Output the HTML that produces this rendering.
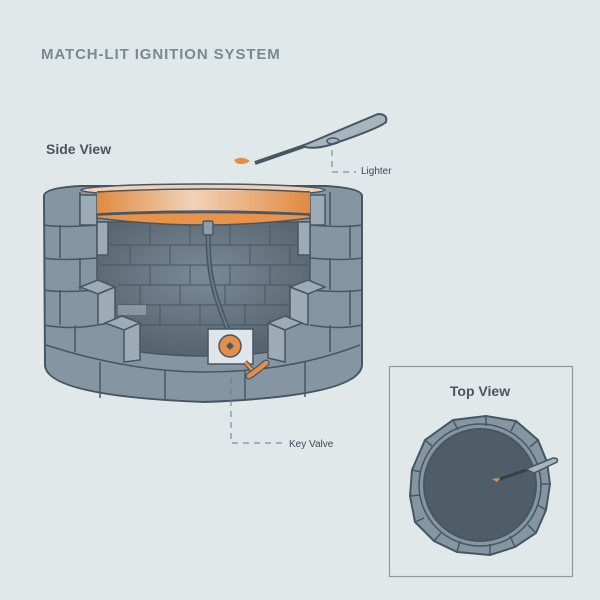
<!DOCTYPE html>
<html><head><meta charset="utf-8"><style>
body{margin:0;background:#e1e8ea;}
svg{display:block;font-family:"Liberation Sans",sans-serif;}
</style></head><body>
<svg width="600" height="600" viewBox="0 0 600 600">
<defs>
<linearGradient id="org" x1="0" x2="1"><stop offset="0" stop-color="#e08a40"/><stop offset="0.45" stop-color="#f3d2b8"/><stop offset="1" stop-color="#e08a40"/></linearGradient>
<radialGradient id="inn" cx="0.5" cy="0.4" r="0.6"><stop offset="0" stop-color="#7a8a96"/><stop offset="1" stop-color="#56646f"/></radialGradient>
</defs>
<rect width="600" height="600" fill="#e1e8ea"/>
<text x="41" y="59" font-size="15" font-weight="bold" fill="#7a8894" letter-spacing="0.9">MATCH-LIT IGNITION SYSTEM</text>
<text x="46" y="154" font-size="14" font-weight="bold" fill="#4a5560">Side View</text>

<!-- body -->
<path d="M44,196 Q44,188 80,186 L325,186 Q362,188 362,196 L362,365 Q360,396 205,402 Q46,396 45,365 Z" fill="#8595a2" stroke="#465663" stroke-width="2"/>
<g stroke="#465663" stroke-width="1.5" fill="none">
<path d="M44,225 Q60,228 97,225 M310,225 Q345,228 362,225"/>
<path d="M44,258 Q60,261 97,258 M310,258 Q345,261 362,258"/>
<path d="M44,290 Q60,293 97,290 M310,290 Q345,293 362,290"/>
<path d="M44,325 Q70,330 97,325 M310,325 Q340,330 362,325"/>
<path d="M46,345 Q130,372 205,372 Q290,372 360,345"/>
<path d="M80,192 V225 M60,225 V258 M80,258 V290 M60,290 V325 M75,325 V352 M330,192 V225 M350,225 V258 M330,258 V290 M350,290 V325 M330,325 V352"/>
<path d="M100,362 V398 M165,370 V401 M245,370 V401 M305,362 V397"/>
</g>
<!-- interior -->
<path d="M97,222 L310,222 L310,283 L292,290 L292,320 L270,325 L270,352 Q205,360 140,352 L125,325 L115,320 L115,290 L97,283 Z" fill="url(#inn)" stroke="#465663" stroke-width="1.5"/>
<g stroke="#465663" stroke-width="1.2" fill="none" opacity="0.8">
<path d="M100,245 H308 M100,265 H308 M118,285 H292 M118,305 H292 M140,325 H270"/>
<path d="M150,225 V245 M190,225 V245 M230,225 V245 M270,225 V245 M130,245 V265 M170,245 V265 M210,245 V265 M250,245 V265 M290,245 V265 M150,265 V285 M190,265 V285 M230,265 V285 M270,265 V285 M140,285 V305 M180,285 V305 M225,285 V305 M265,285 V305 M160,305 V325 M200,305 V325 M245,305 V325"/>
</g>
<rect x="118" y="305" width="28" height="10" fill="#9aa8b2" opacity="0.7"/>
<!-- side block faces -->
<g fill="#9cabb6" stroke="#465663" stroke-width="1.5">
<path d="M80,195 H97 V225 H80 Z"/><path d="M97,222 H108 V255 H97 Z"/>
<path d="M310,195 H325 V225 H310 Z"/><path d="M298,222 H310 V255 H298 Z"/>
<path d="M80,287 L98,280 L115,287 L98,294 Z"/><path d="M98,294 L115,287 V322 L98,325 Z"/>
<path d="M290,287 L308,280 L325,287 L308,294 Z"/><path d="M290,287 L308,294 V325 L290,320 Z"/>
<path d="M105,323 L122,316 L140,323 L124,330 Z"/><path d="M124,330 L140,323 V360 L124,362 Z"/>
<path d="M268,323 L285,316 L302,323 L285,330 Z"/><path d="M268,323 L285,330 V362 L268,358 Z"/>
</g>
<!-- orange ring -->
<ellipse cx="203" cy="190" rx="122" ry="6" fill="#f2cfb3" stroke="#465663" stroke-width="1.5"/>
<rect x="97" y="191" width="213" height="24" fill="url(#org)"/>
<path d="M97,192 Q203,186 310,192 M97,214 Q203,208 310,214" stroke="#465663" stroke-width="1.5" fill="none"/>
<path d="M97,215 Q203,210 310,215 L310,218 Q203,232 97,218 Z" fill="#e8924a" stroke="#465663" stroke-width="1.5"/>
<!-- hose -->
<path d="M208,232 C208,280 215,295 228,330" stroke="#465663" stroke-width="5" fill="none"/>
<path d="M208,232 C208,280 215,295 228,330" stroke="#6b7985" stroke-width="2" fill="none"/>
<rect x="203" y="221" width="10" height="14" rx="2" fill="#8d9ca8" stroke="#465663" stroke-width="1.5"/>
<!-- valve -->
<rect x="208" y="329" width="45" height="35" fill="#dfe5e8" stroke="#465663" stroke-width="1.5"/>
<circle cx="230" cy="346" r="11" fill="#e38f49" stroke="#465663" stroke-width="1.5"/>
<path d="M230,342 L234,346 L230,350 L226,346 Z" fill="#465663"/>
<path d="M245,362 L256,374" stroke="#465663" stroke-width="5"/>
<path d="M245,362 L256,374" stroke="#e38f49" stroke-width="3"/>
<path d="M249,376 Q258,370 266,363" stroke="#465663" stroke-width="7" stroke-linecap="round"/>
<path d="M249,376 Q258,370 266,363" stroke="#e38f49" stroke-width="4.5" stroke-linecap="round"/>
<!-- lighter -->
<path d="M255,163 L310,144" stroke="#465663" stroke-width="4"/>
<path d="M302,146 L378,114 Q388,114 386,122 Q380,128 330,145 Q312,150 302,146 Z" fill="#a9b5be" stroke="#465663" stroke-width="2"/>
<ellipse cx="333" cy="141" rx="6" ry="3" fill="none" stroke="#465663" stroke-width="1.5"/>
<path d="M234,160 Q242,155 250,161 Q243,166 236,163 Z" fill="#e38f49"/>
<!-- leaders -->
<g stroke="#6b7985" stroke-width="1" stroke-dasharray="6,5" fill="none">
<path d="M332,150 V172 H356"/>
<path d="M231,378 V443 H283"/>
</g>
<text x="361" y="174" font-size="10" fill="#3f4a54">Lighter</text>
<text x="289" y="447" font-size="10" fill="#3f4a54">Key Valve</text>

<!-- top view -->
<rect x="389.5" y="366.5" width="183" height="210" fill="#e1e8ea" stroke="#8d9aa4" stroke-width="1.2"/>
<text x="480" y="396" font-size="14" font-weight="bold" fill="#4a5560" text-anchor="middle">Top View</text>
<polygon points="486,416 516,421 538,440 547,462 550,484 546,510 536,533 515,547 490,555 457,552 434,541 415,522 410,496 412,470 425,440 453,420" fill="#8595a2" stroke="#465663" stroke-width="2"/>
<circle cx="480" cy="485" r="61" fill="none" stroke="#465663" stroke-width="1.5"/>
<circle cx="480" cy="485" r="56" fill="#4f5d68" stroke="#465663" stroke-width="2"/>
<g stroke="#465663" stroke-width="1.5"><path d="M486,416 L486,426 M453,420 L458,430 M425,440 L432,446 M412,470 L421,472 M410,496 L420,495 M415,522 L424,518 M434,541 L441,533 M457,552 L460,541 M490,555 L490,544 M515,547 L510,536 M536,533 L528,525 M546,510 L538,505 M550,484 L541,484 M547,462 L538,464 M538,440 L530,447 M516,421 L511,431"/></g>
<path d="M500,479 L532,468" stroke="#33404a" stroke-width="3"/>
<path d="M526,469 L553,458 Q559,458 557,462 L534,473 Z" fill="#a9b5be" stroke="#465663" stroke-width="1.5"/>
<path d="M492,479 L500,478 L497,482 Z" fill="#e38f49"/>
</svg>
</body></html>
